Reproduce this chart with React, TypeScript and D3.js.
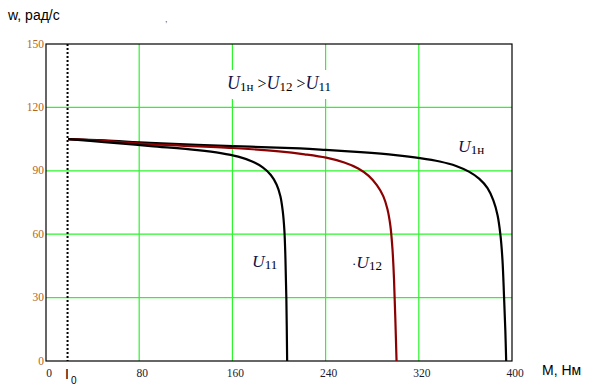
import React from "react";
import * as d3 from "d3";

// ---- data (M, Нм ; w, рад/с) ----
const X_TICKS = [0, 80, 160, 240, 320, 400];
const Y_TICKS = [0, 30, 60, 90, 120, 150];
const I0 = 18.5;

const U1N: [number, number][] = [
  [19, 105], [50, 104.4], [89, 103.2], [160, 101.7], [218, 100.6], [240, 99.9],
  [270, 98.8], [300, 97.4], [321, 96], [338, 94.4], [352, 92.3], [363, 89.6],
  [372, 86.2], [379, 81.8], [384, 76], [387.6, 69], [390, 60], [391.8, 48],
  [393.2, 30], [394.3, 14], [395, 0],
];
const U12: [number, number][] = [
  [19, 105], [50, 104.2], [89, 102.6], [160, 100.8], [200, 99.2], [222, 97.8],
  [240.5, 96.2], [256, 93.9], [268, 91.1], [277, 87.6], [284, 83.2], [289.5, 78],
  [293, 72], [295.6, 64], [297.4, 53], [298.7, 39], [299.8, 21], [300.9, 0],
];
const U11: [number, number][] = [
  [19, 105], [50, 103.6], [90, 101.7], [130, 99.8], [150, 98.4], [165, 96.7],
  [177, 94.4], [186, 91.6], [193, 88], [198, 83.4], [201.2, 78], [203.2, 71],
  [204.6, 62], [205.5, 49], [206.3, 30], [207, 0],
];

const W = 599, H = 386;
const LEFT = 46, RIGHT = 512, TOP = 44, BOTTOM = 361;

export default function App() {
  const x = d3.scaleLinear().domain([0, 400]).range([LEFT, RIGHT]);
  const y = d3.scaleLinear().domain([0, 150]).range([BOTTOM, TOP]);
  const line = d3
    .line<[number, number]>()
    .x((d) => x(d[0]))
    .y((d) => y(d[1]))
    .curve(d3.curveCatmullRom.alpha(0.5));

  const serif = "'Liberation Serif', 'Times New Roman', serif";
  const sans = "'Liberation Sans', Arial, sans-serif";
  const uColor = "#14144a";

  return (
    <div style={{ position: "absolute", left: 0, top: 0 }}>
      <svg width={W} height={H} style={{ display: "block", background: "#fff" }}>
        <rect x={0} y={0} width={W} height={H} fill="#fff" />
        {/* grid */}
        {X_TICKS.filter((t) => t > 0 && t < 400).map((t) => (
          <line key={"gx" + t} x1={x(t)} x2={x(t)} y1={TOP} y2={BOTTOM} stroke="#2cf52c" strokeWidth={1.2} />
        ))}
        {Y_TICKS.filter((t) => t > 0 && t < 150).map((t) => (
          <line key={"gy" + t} x1={LEFT} x2={RIGHT} y1={y(t)} y2={y(t)} stroke="#2cf52c" strokeWidth={1.2} />
        ))}
        {/* legend box */}
        <rect x={222} y={70} width={118} height={29} fill="#fff" />
        {/* frame */}
        <rect x={LEFT} y={TOP} width={RIGHT - LEFT} height={BOTTOM - TOP} fill="none" stroke="#000" strokeWidth={1.2} />
        {/* I0 dotted line */}
        <line x1={x(I0)} x2={x(I0)} y1={TOP} y2={BOTTOM} stroke="#000" strokeWidth={2} strokeDasharray="2,2" />
        {/* curves */}
        <path d={line(U1N) || ""} fill="none" stroke="#000" strokeWidth={2.2} />
        <path d={line(U12) || ""} fill="none" stroke="#8b0000" strokeWidth={2.2} />
        <path d={line(U11) || ""} fill="none" stroke="#000" strokeWidth={2.2} />
        {/* tick labels */}
        {Y_TICKS.map((t) => (
          <text key={"ty" + t} x={LEFT - 2} y={y(t) + 1} textAnchor="end" dominantBaseline="middle"
            fontFamily={serif} fontSize={11.5} fill="#b5651d">{t}</text>
        ))}
        {X_TICKS.map((t) => (
          <text key={"tx" + t} x={x(t) + 3} y={377} textAnchor="middle"
            fontFamily={serif} fontSize={11.5} fill="#1a1a33">{t}</text>
        ))}
        {/* axis titles */}
        <text x={8} y={20} fontFamily={sans} fontSize={14} fill="#000">w, рад/с</text>
        <text x={542} y={375} fontFamily={sans} fontSize={14} fill="#000">M, Нм</text>
        <text x={65} y={379} fontFamily={sans} fontSize={14} fill="#000">I</text>
        <text x={71} y={384} fontFamily={sans} fontSize={10} fill="#000">0</text>
        <text x={165} y={22} fontFamily={sans} fontSize={9} fill="#555">,</text>
        {/* legend */}
        <text x={227} y={89} fontFamily={serif} fill="#000">
          <tspan fontStyle="italic" fontSize={18} fill={uColor}>U</tspan>
          <tspan fontSize={13} dy={2}>1н</tspan>
          <tspan fontSize={16} dy={-2}> &gt;</tspan>
          <tspan fontStyle="italic" fontSize={18} fill={uColor}>U</tspan>
          <tspan fontSize={13} dy={2}>12</tspan>
          <tspan fontSize={16} dy={-2}> &gt;</tspan>
          <tspan fontStyle="italic" fontSize={18} fill={uColor}>U</tspan>
          <tspan fontSize={13} dy={2}>11</tspan>
        </text>
        {/* curve labels */}
        <text x={252} y={267} fontFamily={serif} fill="#000">
          <tspan fontStyle="italic" fontSize={17.5} fill={uColor}>U</tspan>
          <tspan fontSize={13} dy={2}>11</tspan>
        </text>
        <text x={352} y={268} fontFamily={serif} fill="#000">
          <tspan fontSize={13}>·</tspan>
          <tspan fontStyle="italic" fontSize={17.5} fill={uColor}>U</tspan>
          <tspan fontSize={13} dy={2}>12</tspan>
        </text>
        <text x={458} y={152} fontFamily={serif} fill="#000">
          <tspan fontStyle="italic" fontSize={17.5} fill={uColor}>U</tspan>
          <tspan fontSize={13} dy={2}>1н</tspan>
        </text>
      </svg>
    </div>
  );
}
